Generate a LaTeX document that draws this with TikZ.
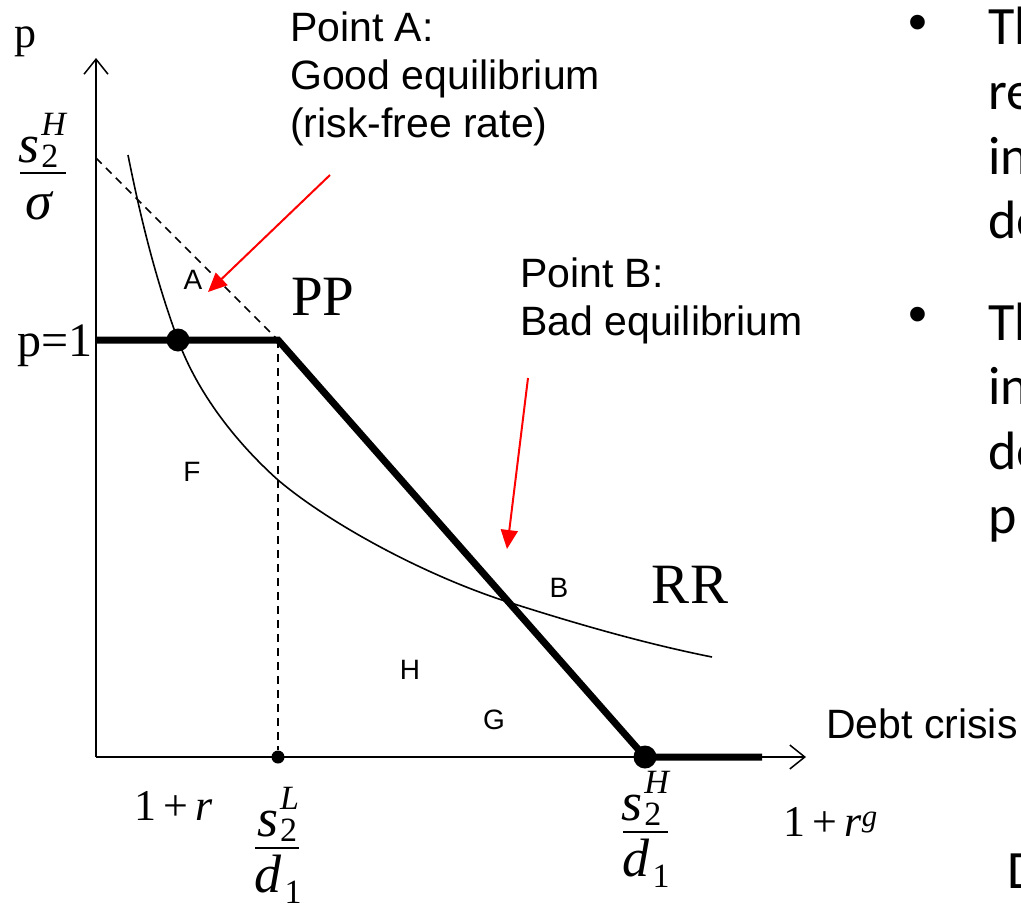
\documentclass[tikz,border=0pt]{standalone}
\usepackage{fontspec}
\setmainfont{Liberation Serif}
\newfontfamily\arialfont{Liberation Sans}
\newfontfamily\calibrifont{Carlito}
\usetikzlibrary{arrows.meta}
\newcommand{\scriptfs}{\fontsize{34}{36}\selectfont}
\newcommand{\sfrac}[1]{\textit{s}\kern2pt\rlap{\raisebox{-5pt}{\scriptfs 2}}\raisebox{27pt}{\scriptfs\textit{#1}}}
\newcommand{\dsub}{\textit{d}\kern3pt\raisebox{-11pt}{\scriptfs 1}}
\tikzset{
  axisline/.style={line width=1.5pt, -{Straight Barb[length=15pt,width=24pt,line width=1.5pt]}},
  ppline/.style={line width=7pt, line join=miter},
  rrcurve/.style={line width=1.6pt},
  guide/.style={line width=1.6pt, dash pattern=on 8pt off 6pt},
  callout/.style={red, line width=2pt, -{Triangle[length=19pt,width=17pt]}},
  bigdot/.style={circle, fill=black, inner sep=0pt, minimum size=23pt},
  smalldot/.style={circle, fill=black, inner sep=0pt, minimum size=13pt},
  region/.style={font=\arialfont\fontsize{28}{30}\selectfont, inner sep=0pt},
  curvelabel/.style={font=\fontsize{57}{60}\selectfont, inner sep=0pt},
  note/.style={font=\arialfont\fontsize{41}{48}\selectfont, align=left, inner sep=0pt, anchor=north west},
  serif/.style={inner sep=0pt},
  fracpart/.style={inner sep=0pt, anchor=base, font=\fontsize{54}{58}\selectfont},
  fracbar/.style={line width=2.2pt},
  slide/.style={font=\calibrifont\fontsize{54}{64.5}\selectfont, inner sep=0pt, anchor=base west},
}
\begin{document}
\begin{tikzpicture}[x=1pt,y=-1pt]
\useasboundingbox (0,0) rectangle (1021,910);

% axes
\coordinate (O) at (96,757);
\coordinate (ytop) at (96,58);
\coordinate (xend) at (806,757);
\draw[axisline] (O) -- (ytop);
\draw[axisline] (O) -- (xend);

% key points
\coordinate (ppstart) at (96,340);
\coordinate (K) at (278,340);
\coordinate (dtop) at (96,158);
\coordinate (ppend) at (762,757);
\node[smalldot] (L) at (278,757) {};

% dashed guides
\draw[guide] (dtop) -- (K);
\draw[guide] (K) -- (L);

% RR curve
\draw[rrcurve] (128,155)
  .. controls (140.5,217.7) and (155.8,280) .. (178,340)
  .. controls (197.8,393.4) and (235.6,441.9) .. (278,480)
  .. controls (330,524) and (425.1,575.5) .. (508,602)
  .. controls (574.7,623.3) and (643.4,643.3) .. (712,657);

% PP line
\draw[ppline] (ppstart) -- (K) -- (645,757) -- (ppend);
\node[bigdot] (A) at (178,340) {};
\node[bigdot] (S) at (645,757) {};

% region letters
\node[region] (la) at (193,280) {A};
\node[region] (lf) at (192,472) {F};
\node[region] (lh) at (410,670) {H};
\node[region] (lg) at (494,720) {G};
\node[region] (lb) at (559,588) {B};

% curve labels
\node[curvelabel] (PP) at (323,297) {PP};
\node[curvelabel] (RR) at (690,585) {RR};

% callouts
\node[note] (noteA) at (290,12) {Point A:\\Good equilibrium\\(risk-free rate)};
\node[note] (noteB) at (520,258) {Point B:\\Bad equilibrium};
\coordinate (aS) at (330,175);
\coordinate (aT) at (208,292);
\coordinate (bS) at (528,378);
\coordinate (bT) at (507,549);
\draw[callout] (aS) -- (aT);
\draw[callout] (bS) -- (bT);

% axis labels
\node[serif, font=\fontsize{44}{48}\selectfont, anchor=base west] (plab) at (14,47) {p};
\node[serif, font=\fontsize{48}{52}\selectfont, anchor=base east] (pone) at (93,356) {p=1};

% s2H / sigma
\node[fracpart] (n1) at (43,162) {\sfrac{H}};
\draw[fracbar] (20,173) -- (66,173);
\node[fracpart] (d1) at (40,219) {\textit{σ}};

\node[serif, font=\fontsize{44}{48}\selectfont, anchor=base west] (oner) at (134,820) {1\,+\,\textit{r}};

% s2L / d1
\node[fracpart] (n2) at (278,836) {\sfrac{L}};
\draw[fracbar] (255,848) -- (299,848);
\node[fracpart] (d2) at (278,892) {\dsub};

% s2H / d1
\node[fracpart] (n3) at (646,820) {\sfrac{H}};
\draw[fracbar] (623,832) -- (668,832);
\node[fracpart] (d3) at (646,876) {\dsub};

\node[serif, font=\fontsize{44}{48}\selectfont, anchor=base west] (onerg) at (783,836) {1\,+\,\textit{r}\textsuperscript{\textit{g}}};

\node[font=\arialfont\fontsize{41}{48}\selectfont, anchor=base west, inner sep=0pt] (crisis) at (826,738) {Debt crisis};

% cropped slide text at the right
\begin{scope}
\clip (0,0) rectangle (1021,910);
\node[font=\arialfont\fontsize{54}{60}\selectfont, inner sep=0pt] (b1) at (918,28) {•};
\node[font=\arialfont\fontsize{54}{60}\selectfont, inner sep=0pt] (b2) at (918,320) {•};
\node[slide] (t1) at (988,45) {Th};
\node[slide] (t2) at (988,109.5) {re};
\node[slide] (t3) at (988,174) {in};
\node[slide] (t4) at (988,238.5) {de};
\node[slide] (t5) at (988,340) {Th};
\node[slide] (t6) at (988,404.5) {in};
\node[slide] (t7) at (988,469) {de};
\node[slide] (t8) at (988,533.5) {p};
\node[slide] (t9) at (1007,888) {D};
\end{scope}
\end{tikzpicture}
\end{document}
